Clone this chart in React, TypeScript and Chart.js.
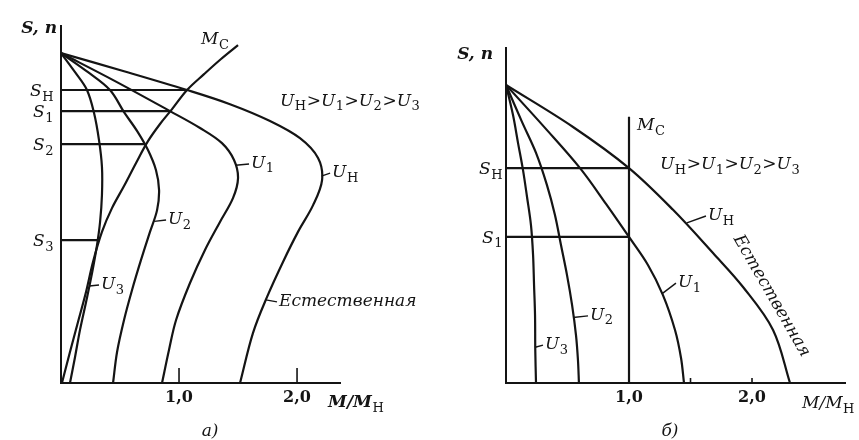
import { useEffect, useRef } from 'react';
import { Chart, registerables } from 'chart.js';

Chart.register(...registerables);

type Pt = [number, number];

const INK = '#141414';
const FONT = '"DejaVu Serif", "Liberation Serif", serif';

// ---- а) speed–torque curves at reduced voltage, fan-type load M_С ----
const A_U_NOM: Pt[] = [
  [0, 1], [0.534, 0.945], [1.068, 0.888], [1.432, 0.845], [1.771, 0.794], [2.025, 0.742],
  [2.178, 0.682], [2.212, 0.615], [2.136, 0.539], [2.008, 0.458], [1.881, 0.367],
  [1.746, 0.261], [1.627, 0.152], [1.517, 0],
];
const A_U1: Pt[] = [
  [0, 1], [0.458, 0.915], [0.924, 0.824], [1.178, 0.773], [1.364, 0.727], [1.466, 0.676],
  [1.5, 0.621], [1.458, 0.561], [1.347, 0.488], [1.22, 0.403], [1.093, 0.303], [0.975, 0.191],
  [0.915, 0.1], [0.856, 0],
];
const A_U2: Pt[] = [
  [0, 1], [0.229, 0.942], [0.415, 0.888], [0.534, 0.821], [0.644, 0.764], [0.737, 0.706],
  [0.805, 0.645], [0.831, 0.585], [0.814, 0.524], [0.754, 0.458], [0.678, 0.373],
  [0.602, 0.282], [0.534, 0.191], [0.475, 0.094], [0.441, 0],
];
const A_U3: Pt[] = [
  [0, 1], [0.119, 0.942], [0.22, 0.888], [0.28, 0.818], [0.322, 0.736], [0.347, 0.655],
  [0.347, 0.57], [0.331, 0.488], [0.305, 0.418], [0.263, 0.333], [0.212, 0.245],
  [0.161, 0.161], [0.119, 0.079], [0.076, 0],
];
const A_MC: Pt[] = [
  [0.008, 0], [0.076, 0.094], [0.144, 0.185], [0.212, 0.276], [0.271, 0.367], [0.347, 0.458],
  [0.432, 0.53], [0.534, 0.597], [0.636, 0.667], [0.737, 0.733], [0.839, 0.785], [0.941, 0.83],
  [1.068, 0.888], [1.212, 0.936], [1.356, 0.982], [1.5, 1.024],
];
const A_S_LEVELS = [0.888, 0.824, 0.724, 0.433];
const A_S_ENDS = [1.068, 0.924, 0.712, 0.314];
const A_S_SUBS = ['Н', '1', '2', '3'];
const A_TICKS = [1, 2];
const A_TICK_LABELS = ['1,0', '2,0'];

// ---- б) the same at constant load torque M_С = M_Н ----
const B_U_NOM: Pt[] = [
  [0, 1], [0.545, 0.859], [1, 0.721], [1.358, 0.581], [1.683, 0.436], [1.927, 0.322],
  [2.171, 0.178], [2.309, 0],
];
const B_U1: Pt[] = [
  [0, 1], [0.317, 0.856], [0.602, 0.721], [0.813, 0.601], [1, 0.49], [1.154, 0.396],
  [1.276, 0.295], [1.374, 0.178], [1.423, 0.084], [1.447, 0],
];
const B_U2: Pt[] = [
  [0, 1], [0.13, 0.876], [0.244, 0.772], [0.333, 0.664], [0.398, 0.564], [0.447, 0.463],
  [0.496, 0.362], [0.537, 0.262], [0.569, 0.161], [0.585, 0.077], [0.593, 0],
];
const B_U3: Pt[] = [
  [0, 1], [0.057, 0.899], [0.098, 0.805], [0.138, 0.715], [0.171, 0.624], [0.203, 0.53],
  [0.22, 0.43], [0.228, 0.329], [0.236, 0.228], [0.238, 0.111], [0.244, 0],
];
const B_MC: Pt[] = [[1, 0], [1, 0.893]];
const B_S_LEVELS = [0.721, 0.49];
const B_S_ENDS = [1, 1];
const B_S_SUBS = ['Н', '1'];
const B_TICKS = [1, 2];
const B_TICK_LABELS = ['1,0', '2,0'];

type Note = {
  text: string;
  x: number;
  y: number;
  lead?: Pt;
  align?: 'left' | 'center' | 'right';
  angle?: number;
  bold?: boolean;
};

type Panel = {
  curves: Pt[][];
  straight: Pt[][];
  sLevels: number[];
  sEnds: number[];
  sSubs: string[];
  ticks: number[];
  tickLabels: string[];
  tickMarks: number[];
  tickMarkLen: number;
  xMax: number;
  yMax: number;
  padTop: number;
  padRight: number;
  yAxisW: number;
  sGap: number;
  axisLabelDx: number;
  axisLabelDy: number;
  notes: Note[];
};

const PANEL_A: Panel = {
  curves: [A_U_NOM, A_U1, A_U2, A_U3, A_MC],
  straight: [],
  sLevels: A_S_LEVELS,
  sEnds: A_S_ENDS,
  sSubs: A_S_SUBS,
  ticks: A_TICKS,
  tickLabels: A_TICK_LABELS,
  tickMarks: [1, 2],
  tickMarkLen: 15,
  xMax: 2.364,
  yMax: 1.082,
  padTop: 26,
  padRight: 80,
  yAxisW: 61,
  sGap: 7,
  axisLabelDx: -4,
  axisLabelDy: 1,
  notes: [
    { text: 'M_{С}', x: 1.186, y: 1.045 },
    { text: 'U_{Н}>U_{1}>U_{2}>U_{3}', x: 1.856, y: 0.858 },
    { text: 'U_{1}', x: 1.61, y: 0.67, lead: [1.48, 0.66] },
    { text: 'U_{Н}', x: 2.297, y: 0.642, lead: [2.206, 0.627] },
    { text: 'U_{2}', x: 0.907, y: 0.5, lead: [0.79, 0.49] },
    { text: 'U_{3}', x: 0.339, y: 0.303, lead: [0.24, 0.294] },
    { text: 'Естественная', x: 1.847, y: 0.252, lead: [1.736, 0.252] },
    { text: 'M/M_{Н}', x: 2.263, y: -0.055, bold: true },
    { text: 'а)', x: 1.263, y: -0.142, align: 'center' },
  ],
};

const PANEL_B: Panel = {
  curves: [B_U_NOM, B_U1, B_U2, B_U3],
  straight: [B_MC],
  sLevels: B_S_LEVELS,
  sEnds: B_S_ENDS,
  sSubs: B_S_SUBS,
  ticks: B_TICKS,
  tickLabels: B_TICK_LABELS,
  tickMarks: [1.5, 2],
  tickMarkLen: 5,
  xMax: 2.756,
  yMax: 1.124,
  padTop: 48,
  padRight: 14,
  yAxisW: 86,
  sGap: 3,
  axisLabelDx: -13,
  axisLabelDy: 5,
  notes: [
    { text: 'M_{С}', x: 1.065, y: 0.869 },
    { text: 'U_{Н}>U_{1}>U_{2}>U_{3}', x: 1.252, y: 0.738 },
    { text: 'U_{Н}', x: 1.642, y: 0.567, lead: [1.47, 0.537] },
    { text: 'U_{1}', x: 1.398, y: 0.342, lead: [1.27, 0.3] },
    { text: 'U_{2}', x: 0.683, y: 0.232, lead: [0.545, 0.22] },
    { text: 'U_{3}', x: 0.317, y: 0.134, lead: [0.238, 0.12] },
    { text: 'Естественная', x: 2.171, y: 0.295, angle: 60, align: 'center' },
    { text: 'M/M_{Н}', x: 2.407, y: -0.064 },
    { text: 'б)', x: 1.333, y: -0.158, align: 'center' },
  ],
};

type Part = { t: string; sub: boolean };

function parseRich(src: string): Part[] {
  const out: Part[] = [];
  const re = /_\{([^}]*)\}/g;
  let last = 0;
  let m: RegExpExecArray | null;
  while ((m = re.exec(src))) {
    if (m.index > last) out.push({ t: src.slice(last, m.index), sub: false });
    out.push({ t: m[1], sub: true });
    last = re.lastIndex;
  }
  if (last < src.length) out.push({ t: src.slice(last), sub: false });
  return out;
}

// Text with upright subscripts; (x, y) is the left/centre/right point at mid cap height.
function drawRich(
  ctx: CanvasRenderingContext2D,
  src: string,
  x: number,
  y: number,
  size: number,
  align: 'left' | 'center' | 'right' = 'left',
  opts: { bold?: boolean; angle?: number } = {},
) {
  const parts = parseRich(src);
  const mainFont = `italic ${opts.bold ? 'bold ' : ''}${size}px ${FONT}`;
  const subSize = Math.round(size * 0.74);
  const subFont = `${subSize}px ${FONT}`;
  let w = 0;
  const widths = parts.map((p) => {
    ctx.font = p.sub ? subFont : mainFont;
    const pw = ctx.measureText(p.t).width + (p.sub ? 1 : 0);
    w += pw;
    return pw;
  });
  ctx.save();
  ctx.translate(x, y);
  if (opts.angle) ctx.rotate((opts.angle * Math.PI) / 180);
  let cx = align === 'left' ? 0 : align === 'center' ? -w / 2 : -w;
  const base = size * 0.36;
  ctx.fillStyle = INK;
  ctx.textBaseline = 'alphabetic';
  ctx.textAlign = 'left';
  parts.forEach((p, i) => {
    ctx.font = p.sub ? subFont : mainFont;
    ctx.fillText(p.t, cx + (p.sub ? 0.5 : 0), p.sub ? base + size * 0.26 : base);
    cx += widths[i];
  });
  ctx.restore();
}

function makePanel(canvas: HTMLCanvasElement, cfg: Panel): Chart {
  const sLines: Pt[][] = cfg.sLevels.map((lv, i) => [[0, lv], [cfg.sEnds[i], lv]]);
  const toData = (pts: Pt[]) => pts.map(([x, y]) => ({ x, y }));
  const datasets = [
    ...cfg.curves.map((c) => ({ data: toData(c), tension: 0.35 })),
    ...cfg.straight.map((c) => ({ data: toData(c), tension: 0 })),
    ...sLines.map((c) => ({ data: toData(c), tension: 0 })),
  ].map((d) => ({
    ...d,
    borderColor: INK,
    borderWidth: 2.2,
    pointRadius: 0,
    fill: false,
  }));

  const notesPlugin = {
    id: 'notes',
    afterDatasetsDraw(chart: Chart) {
      const ctx = chart.ctx;
      const xs = chart.scales.x;
      const ys = chart.scales.y;
      const area = chart.chartArea;
      ctx.save();
      // short tick marks standing on the M axis
      ctx.strokeStyle = INK;
      ctx.lineWidth = 1.6;
      cfg.tickMarks.forEach((v) => {
        const px = xs.getPixelForValue(v);
        ctx.beginPath();
        ctx.moveTo(px, area.bottom);
        ctx.lineTo(px, area.bottom - cfg.tickMarkLen);
        ctx.stroke();
      });
      // axis name
      drawRich(ctx, 'S, n', area.left + cfg.axisLabelDx, area.top + cfg.axisLabelDy, 17, 'right', { bold: true });
      // slip levels
      cfg.sLevels.forEach((lv, i) => {
        drawRich(ctx, `S_{${cfg.sSubs[i]}}`, area.left - cfg.sGap, ys.getPixelForValue(lv), 17, 'right');
      });
      // curve labels with leaders
      cfg.notes.forEach((n) => {
        const px = xs.getPixelForValue(n.x);
        const py = ys.getPixelForValue(n.y);
        if (n.lead) {
          ctx.strokeStyle = INK;
          ctx.lineWidth = 1.4;
          ctx.beginPath();
          ctx.moveTo(xs.getPixelForValue(n.lead[0]), ys.getPixelForValue(n.lead[1]));
          ctx.lineTo(px - 2, py + 2);
          ctx.stroke();
        }
        drawRich(ctx, n.text, px, py, 17, n.align ?? 'left', { bold: n.bold, angle: n.angle });
      });
      ctx.restore();
    },
  };

  return new Chart(canvas, {
    type: 'scatter',
    data: { datasets: datasets.map((d) => ({ ...d, showLine: true })) },
    options: {
      responsive: false,
      animation: false,
      events: [],
      layout: { padding: { top: cfg.padTop, right: cfg.padRight, left: 0, bottom: 0 } },
      plugins: { legend: { display: false }, tooltip: { enabled: false } },
      scales: {
        x: {
          type: 'linear',
          position: 'bottom',
          min: 0,
          max: cfg.xMax,
          afterFit: (s: any) => {
            s.height = 57;
          },
          afterBuildTicks: (s: any) => {
            s.ticks = cfg.ticks.map((v) => ({ value: v }));
          },
          ticks: {
            autoSkip: false,
            maxRotation: 0,
            padding: 5,
            color: INK,
            font: { family: FONT, size: 16, weight: 'bold' },
            callback: (v: any) => cfg.tickLabels[cfg.ticks.indexOf(Number(v))] ?? '',
          },
          grid: { color: 'rgba(0,0,0,0)', drawTicks: false },
          border: { display: true, color: INK, width: 2 },
        },
        y: {
          type: 'linear',
          position: 'left',
          min: 0,
          max: cfg.yMax,
          afterFit: (s: any) => {
            s.width = cfg.yAxisW;
          },
          ticks: { display: false },
          grid: { color: 'rgba(0,0,0,0)', drawTicks: false },
          border: { display: true, color: INK, width: 2 },
        },
      },
    },
    plugins: [notesPlugin],
  } as any);
}

export default function App() {
  const aRef = useRef<HTMLCanvasElement>(null);
  const bRef = useRef<HTMLCanvasElement>(null);

  useEffect(() => {
    const a = makePanel(aRef.current!, PANEL_A);
    const b = makePanel(bRef.current!, PANEL_B);
    return () => {
      a.destroy();
      b.destroy();
    };
  }, []);

  return (
    <div
      style={{
        position: 'absolute',
        left: 0,
        top: 0,
        width: 859,
        height: 440,
        background: '#fff',
        overflow: 'hidden',
      }}
    >
      <canvas ref={aRef} width={420} height={440} style={{ position: 'absolute', left: 0, top: 0 }} />
      <canvas ref={bRef} width={439} height={440} style={{ position: 'absolute', left: 420, top: 0 }} />
    </div>
  );
}
